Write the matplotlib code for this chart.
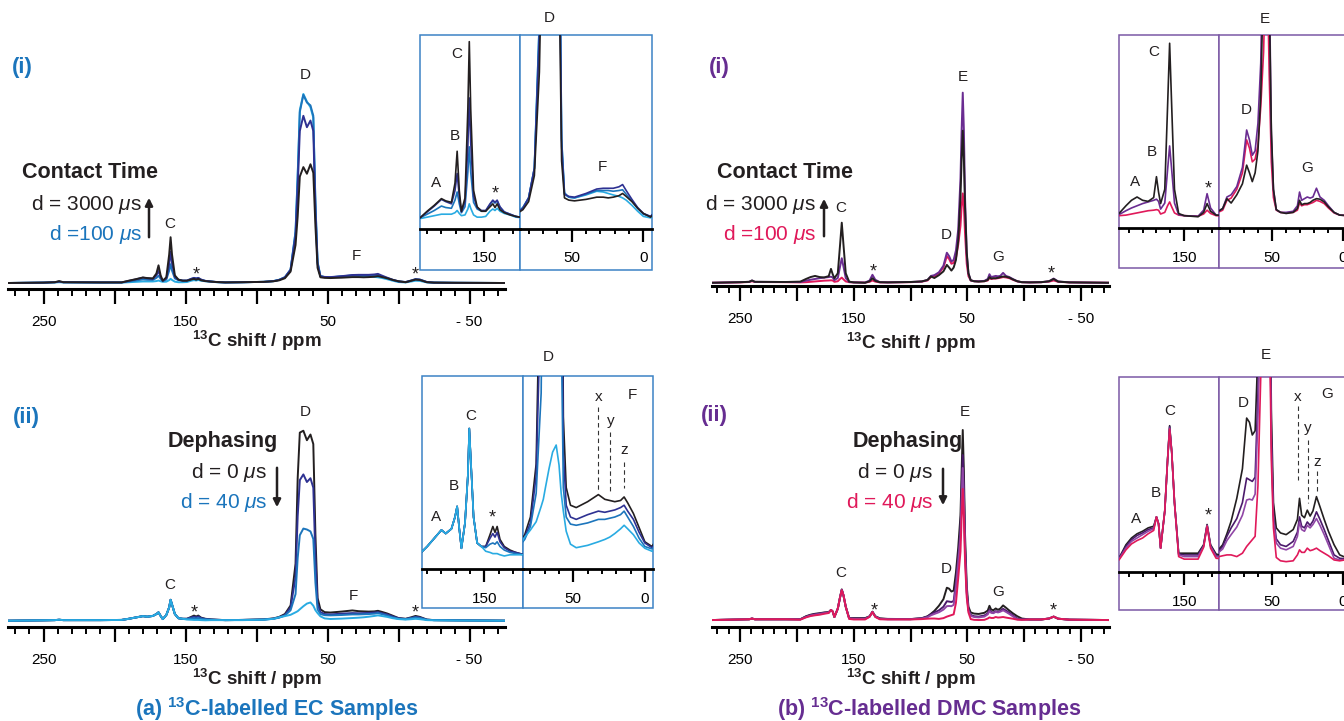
import matplotlib
matplotlib.use('Agg')
import matplotlib.pyplot as plt
from matplotlib.patches import Rectangle, FancyArrowPatch

plt.rcParams['font.family'] = ['Liberation Sans', 'DejaVu Sans']
plt.rcParams['mathtext.fontset'] = 'custom'
plt.rcParams['mathtext.rm'] = 'Liberation Sans'
plt.rcParams['mathtext.it'] = 'Liberation Sans:italic'
plt.rcParams['mathtext.bf'] = 'Liberation Sans:bold'

W, H = 1344, 721

# ---- EC spectra (shift grid shared by both EC panels) ----
ec_ppm = [275, 250, 242, 239, 236, 210, 195, 190, 185, 180,
          177, 173, 170.5, 169, 167.5, 166, 163.5, 161.5, 160.5, 159.5,
          157.5, 155, 152, 149, 146, 144, 142.5, 141, 139, 136,
          132, 128, 122, 110, 95, 88, 84, 80, 76, 72.5,
          71, 69.5, 67, 64.5, 62, 60, 58.5, 57, 55, 52,
          48, 40, 32.5, 28, 24.5, 21, 17, 14.5, 12, 8,
          4, 0, -5, -9, -12, -15, -20, -25, -40, -75]

# (a)(i) contact time
ec_ct_3000 = [0, 0.002, 0.004, 0.010, 0.004, 0.003, 0.003, 0.012, 0.020, 0.029,
              0.026, 0.024, 0.050, 0.093, 0.040, 0.012, 0.030, 0.150, 0.241, 0.150,
              0.040, 0.018, 0.012, 0.012, 0.018, 0.022, 0.017, 0.022, 0.014, 0.010,
              0.007, 0.005, 0.003, 0.004, 0.006, 0.009, 0.014, 0.025, 0.060, 0.200,
              0.350, 0.560, 0.610, 0.575, 0.625, 0.580, 0.300, 0.080, 0.030, 0.027,
              0.026, 0.028, 0.031, 0.031, 0.030, 0.031, 0.033, 0.036, 0.032, 0.025,
              0.016, 0.009, 0.004, 0.012, 0.018, 0.016, 0.004, 0.002, 0.001, 0]
ec_ct_mid1 = [0, 0.002, 0.004, 0.008, 0.004, 0.003, 0.003, 0.011, 0.019, 0.028,
              0.025, 0.022, 0.040, 0.063, 0.032, 0.011, 0.025, 0.100, 0.165, 0.105,
              0.032, 0.017, 0.013, 0.013, 0.022, 0.027, 0.024, 0.027, 0.018, 0.011,
              0.008, 0.005, 0.003, 0.004, 0.006, 0.010, 0.016, 0.030, 0.070, 0.250,
              0.500, 0.800, 0.880, 0.820, 0.855, 0.800, 0.380, 0.100, 0.035, 0.032,
              0.031, 0.036, 0.042, 0.043, 0.043, 0.043, 0.045, 0.048, 0.040, 0.028,
              0.017, 0.009, 0.005, 0.013, 0.020, 0.018, 0.005, 0.002, 0.001, 0]
ec_ct_mid2 = [0, 0.002, 0.004, 0.006, 0.004, 0.003, 0.003, 0.008, 0.013, 0.019,
              0.017, 0.016, 0.027, 0.038, 0.022, 0.010, 0.018, 0.065, 0.099, 0.065,
              0.024, 0.015, 0.012, 0.012, 0.021, 0.026, 0.023, 0.026, 0.017, 0.011,
              0.008, 0.005, 0.003, 0.004, 0.006, 0.010, 0.017, 0.030, 0.070, 0.270,
              0.560, 0.900, 0.990, 0.950, 0.935, 0.880, 0.420, 0.110, 0.037, 0.031,
              0.030, 0.035, 0.040, 0.040, 0.040, 0.039, 0.040, 0.041, 0.035, 0.026,
              0.016, 0.008, 0.005, 0.013, 0.020, 0.018, 0.005, 0.002, 0.001, 0]
ec_ct_100 = [0, 0.002, 0.003, 0.004, 0.003, 0.002, 0.002, 0.004, 0.006, 0.008,
             0.008, 0.008, 0.010, 0.013, 0.009, 0.006, 0.007, 0.015, 0.022, 0.016,
             0.007, 0.004, 0.004, 0.005, 0.012, 0.015, 0.013, 0.016, 0.012, 0.009,
             0.007, 0.004, 0.003, 0.004, 0.006, 0.010, 0.017, 0.030, 0.070, 0.270,
             0.570, 0.910, 0.995, 0.955, 0.925, 0.870, 0.420, 0.110, 0.035, 0.031,
             0.030, 0.034, 0.039, 0.038, 0.036, 0.034, 0.032, 0.030, 0.027, 0.020,
             0.012, 0.005, 0.003, 0.008, 0.012, 0.011, 0.003, 0.002, 0.001, 0]

# (a)(ii) dephasing
ec_dp_0 = [0, 0.002, 0.003, 0.005, 0.003, 0.003, 0.004, 0.010, 0.017, 0.024,
           0.021, 0.025, 0.035, 0.044, 0.025, 0.0085, 0.030, 0.070, 0.110, 0.085,
           0.035, 0.013, 0.010, 0.010, 0.020, 0.027, 0.022, 0.027, 0.016, 0.010,
           0.007, 0.005, 0.003, 0.004, 0.007, 0.012, 0.020, 0.035, 0.080, 0.300,
           0.750, 0.990, 1.000, 0.950, 0.980, 0.930, 0.450, 0.120, 0.060, 0.045,
           0.043, 0.048, 0.054, 0.050, 0.049, 0.048, 0.049, 0.052, 0.047, 0.038,
           0.026, 0.014, 0.010, 0.018, 0.025, 0.020, 0.006, 0.003, 0.002, 0]
ec_dp_mid1 = [0, 0.002, 0.003, 0.005, 0.003, 0.003, 0.004, 0.010, 0.017, 0.024,
              0.021, 0.025, 0.035, 0.044, 0.025, 0.0085, 0.030, 0.070, 0.110, 0.085,
              0.035, 0.013, 0.010, 0.010, 0.017, 0.021, 0.018, 0.022, 0.014, 0.009,
              0.006, 0.005, 0.003, 0.004, 0.006, 0.011, 0.018, 0.030, 0.070, 0.230,
              0.550, 0.740, 0.770, 0.730, 0.750, 0.700, 0.330, 0.090, 0.045, 0.035,
              0.033, 0.037, 0.040, 0.039, 0.040, 0.041, 0.043, 0.045, 0.040, 0.033,
              0.022, 0.013, 0.009, 0.015, 0.020, 0.017, 0.005, 0.003, 0.002, 0]
ec_dp_mid2 = [0, 0.002, 0.003, 0.005, 0.003, 0.003, 0.004, 0.010, 0.017, 0.024,
              0.021, 0.025, 0.035, 0.044, 0.025, 0.0085, 0.030, 0.070, 0.110, 0.085,
              0.035, 0.013, 0.010, 0.009, 0.012, 0.013, 0.012, 0.014, 0.010, 0.007,
              0.005, 0.004, 0.003, 0.004, 0.006, 0.010, 0.016, 0.027, 0.055, 0.140,
              0.330, 0.450, 0.485, 0.480, 0.470, 0.430, 0.200, 0.060, 0.035, 0.029,
              0.028, 0.030, 0.033, 0.033, 0.034, 0.035, 0.037, 0.040, 0.035, 0.027,
              0.017, 0.010, 0.008, 0.013, 0.017, 0.014, 0.005, 0.003, 0.002, 0]
ec_dp_40 = [0, 0.002, 0.003, 0.005, 0.003, 0.003, 0.004, 0.010, 0.017, 0.024,
            0.021, 0.025, 0.035, 0.044, 0.025, 0.0085, 0.030, 0.070, 0.110, 0.085,
            0.035, 0.013, 0.010, 0.006, 0.005, 0.004, 0.004, 0.004, 0.003, 0.002,
            0.003, 0.003, 0.003, 0.003, 0.005, 0.010, 0.018, 0.024, 0.031, 0.044,
            0.050, 0.060, 0.076, 0.090, 0.096, 0.079, 0.055, 0.040, 0.023, 0.012,
            0.009, 0.011, 0.014, 0.016, 0.018, 0.021, 0.025, 0.028, 0.025, 0.020,
            0.013, 0.0085, 0.006, 0.008, 0.010, 0.008, 0.003, 0.002, 0.001, 0]

# ---- DMC spectra (shift grid shared by both DMC panels) ----
dmc_ppm = [275, 250, 242, 239.5, 237, 210, 197, 192, 188, 184,
           180, 176, 172, 170, 168.5, 167, 164, 162, 160.5, 159,
           157, 154, 150, 140, 136, 133.5, 131, 127, 120, 100,
           90, 85, 82, 79, 75, 71, 68, 66, 64, 62,
           60, 58, 56, 55, 54, 53, 52, 50.5, 49, 47,
           44, 40, 35, 32, 30.5, 29, 27, 25, 23, 21,
           18.5, 16, 13, 10, 6, 2, -5, -15, -22, -26,
           -30, -40, -75]

# (b)(i) contact time
dmc_ct_3000 = [0, 0.003, 0.005, 0.012, 0.005, 0.004, 0.006, 0.020, 0.030, 0.036,
               0.030, 0.028, 0.035, 0.073, 0.045, 0.024, 0.050, 0.200, 0.316, 0.200,
               0.050, 0.006, 0.002, 0.000, 0.008, 0.024, 0.010, 0.003, 0.002, 0.004,
               0.007, 0.015, 0.033, 0.025, 0.040, 0.060, 0.094, 0.080, 0.064, 0.080,
               0.120, 0.220, 0.450, 0.650, 0.800, 0.650, 0.400, 0.160, 0.050, 0.013,
               0.008, 0.006, 0.008, 0.015, 0.030, 0.022, 0.024, 0.024, 0.026, 0.030,
               0.033, 0.032, 0.027, 0.018, 0.008, 0.003, 0.002, 0.003, 0.008, 0.020,
               0.006, 0.002, 0]
dmc_ct_mid = [0, 0.003, 0.005, 0.012, 0.005, 0.004, 0.004, 0.011, 0.016, 0.020,
              0.024, 0.027, 0.030, 0.032, 0.028, 0.014, 0.025, 0.085, 0.129, 0.085,
              0.025, 0.004, 0.002, 0.001, 0.012, 0.042, 0.016, 0.003, 0.002, 0.004,
              0.007, 0.015, 0.036, 0.040, 0.055, 0.090, 0.158, 0.140, 0.112, 0.120,
              0.170, 0.280, 0.550, 0.800, 1.000, 0.800, 0.450, 0.150, 0.050, 0.013,
              0.008, 0.008, 0.010, 0.020, 0.045, 0.030, 0.033, 0.036, 0.034, 0.036,
              0.052, 0.036, 0.030, 0.020, 0.008, 0.003, 0.002, 0.003, 0.008, 0.022,
              0.007, 0.002, 0]
dmc_ct_100 = [0, 0.002, 0.004, 0.008, 0.004, 0.003, 0.002, 0.003, 0.005, 0.007,
              0.009, 0.011, 0.012, 0.013, 0.012, 0.005, 0.008, 0.020, 0.027, 0.018,
              0.007, 0.003, 0.002, 0.001, 0.005, 0.012, 0.006, 0.002, 0.002, 0.003,
              0.006, 0.012, 0.030, 0.034, 0.050, 0.080, 0.140, 0.125, 0.100, 0.105,
              0.130, 0.200, 0.300, 0.400, 0.470, 0.400, 0.260, 0.100, 0.035, 0.012,
              0.008, 0.007, 0.008, 0.012, 0.025, 0.020, 0.022, 0.022, 0.024, 0.026,
              0.030, 0.028, 0.024, 0.016, 0.007, 0.003, 0.002, 0.003, 0.006, 0.012,
              0.005, 0.002, 0]

# (b)(ii) dephasing
dmc_dp_0 = [0, 0.003, 0.004, 0.008, 0.004, 0.004, 0.004, 0.020, 0.028, 0.033,
            0.036, 0.040, 0.042, 0.053, 0.045, 0.016, 0.060, 0.120, 0.161, 0.130,
            0.070, 0.010, 0.010, 0.010, 0.020, 0.044, 0.020, 0.009, 0.006, 0.005,
            0.010, 0.020, 0.033, 0.048, 0.075, 0.110, 0.170, 0.165, 0.150, 0.155,
            0.250, 0.380, 0.550, 0.780, 1.000, 0.780, 0.450, 0.180, 0.070, 0.040,
            0.034, 0.032, 0.038, 0.050, 0.075, 0.055, 0.052, 0.061, 0.054, 0.060,
            0.077, 0.065, 0.050, 0.036, 0.020, 0.008, 0.003, 0.003, 0.008, 0.018,
            0.007, 0.002, 0]
dmc_dp_mid1 = [0, 0.003, 0.004, 0.008, 0.004, 0.004, 0.004, 0.018, 0.026, 0.031,
               0.034, 0.038, 0.040, 0.053, 0.045, 0.016, 0.060, 0.120, 0.160, 0.130,
               0.070, 0.009, 0.008, 0.008, 0.019, 0.043, 0.019, 0.007, 0.005, 0.005,
               0.009, 0.018, 0.030, 0.040, 0.051, 0.070, 0.099, 0.097, 0.095, 0.100,
               0.200, 0.330, 0.480, 0.680, 0.868, 0.680, 0.390, 0.150, 0.055, 0.027,
               0.020, 0.018, 0.024, 0.035, 0.053, 0.042, 0.040, 0.047, 0.043, 0.048,
               0.059, 0.050, 0.038, 0.025, 0.008, 0.004, 0.003, 0.003, 0.008, 0.018,
               0.007, 0.002, 0]
dmc_dp_mid2 = [0, 0.003, 0.004, 0.008, 0.004, 0.004, 0.003, 0.016, 0.024, 0.028,
               0.032, 0.036, 0.039, 0.053, 0.045, 0.016, 0.060, 0.120, 0.158, 0.130,
               0.070, 0.008, 0.006, 0.006, 0.018, 0.043, 0.018, 0.006, 0.004, 0.004,
               0.008, 0.015, 0.025, 0.032, 0.041, 0.055, 0.073, 0.074, 0.073, 0.080,
               0.170, 0.300, 0.440, 0.630, 0.800, 0.630, 0.360, 0.140, 0.050, 0.022,
               0.016, 0.014, 0.018, 0.030, 0.047, 0.038, 0.036, 0.043, 0.040, 0.044,
               0.051, 0.043, 0.032, 0.020, 0.004, 0.002, 0.003, 0.003, 0.008, 0.018,
               0.007, 0.002, 0]
dmc_dp_40 = [0, 0.003, 0.004, 0.008, 0.004, 0.004, 0.002, 0.014, 0.021, 0.025,
             0.028, 0.033, 0.037, 0.053, 0.045, 0.016, 0.060, 0.120, 0.157, 0.130,
             0.070, 0.006, 0.003, 0.003, 0.017, 0.042, 0.016, 0.004, 0.003, 0.003,
             0.005, 0.007, 0.008, 0.008, 0.006, 0.010, 0.018, 0.022, 0.026, 0.030,
             0.090, 0.220, 0.360, 0.540, 0.690, 0.540, 0.310, 0.120, 0.040, 0.005,
             0.001, 0.000, 0.001, 0.008, 0.014, 0.011, 0.011, 0.016, 0.013, 0.014,
             0.016, 0.013, 0.010, 0.007, 0.002, 0.001, 0.003, 0.003, 0.008, 0.018,
             0.007, 0.002, 0]

main_major = [250, 200, 150, 100, 50, 0, -50]
main_labels = ['250', '', '150', '', '50', '', '- 50']

BLACK = '#231f20'
EC_COL = '#1b75bc'
DMC_COL = '#662d91'
EC_LINES = ['#231f20', '#2e3192', '#1c75bc', '#29abe2']
DMC_CT_LINES = ['#231f20', '#6a2c91', '#e0195a']
DMC_DP_LINES = ['#231f20', '#4b1a6b', '#9046a6', '#e0195a']

fig = plt.figure(figsize=(W / 100, H / 100), dpi=100)


def px_axes(left, top, right, bottom, z=1):
    ax = fig.add_axes([left / W, 1 - bottom / H, (right - left) / W, (bottom - top) / H], zorder=z)
    ax.patch.set_visible(False)
    for side in ['top', 'left', 'right']:
        ax.spines[side].set_visible(False)
    ax.set_yticks([])
    return ax


def main_axes(left, top, right, bottom, ylim):
    ax = px_axes(left, top, right, bottom)
    ax.set_xlim(275, -75)
    ax.set_ylim(*ylim)
    ax.spines['bottom'].set_linewidth(2.2)
    ax.set_xticks(main_major)
    ax.set_xticklabels(main_labels)
    ax.set_xticks(list(range(270, -80, -10)), minor=True)
    ax.tick_params(axis='x', which='major', length=11, width=1.6, labelsize=11, pad=8)
    ax.tick_params(axis='x', which='minor', length=5, width=1.4)
    return ax


def inset_pair(left, mid, right, top, axis_y, box_bottom, xl_left, xl_right, ylim, edge):
    for a, b in [(left, mid), (mid, right)]:
        fig.add_artist(Rectangle((a / W, 1 - box_bottom / H), (b - a) / W, (box_bottom - top) / H,
                                 transform=fig.transFigure, facecolor='white',
                                 edgecolor=edge, lw=1.1, zorder=2))
    axl = px_axes(left, top, mid, axis_y, z=3)
    axr = px_axes(mid, top, right, axis_y, z=3)
    axl.set_xlim(*xl_left)
    axr.set_xlim(*xl_right)
    axl.set_xticks([150])
    axl.set_xticklabels(['150'])
    axl.set_xticks([190, 180, 170, 160, 140, 130], minor=True)
    axr.set_xticks([50, 0])
    axr.set_xticklabels(['50', '0'])
    axr.set_xticks([80, 70, 60, 40, 30, 20, 10], minor=True)
    for ax in (axl, axr):
        ax.set_ylim(*ylim)
        ax.spines['bottom'].set_linewidth(2.0)
        ax.tick_params(axis='x', which='major', length=9, width=1.6, labelsize=11, pad=7)
        ax.tick_params(axis='x', which='minor', length=3.5, width=1.4)
    return axl, axr


def draw(axes, ppm, series, colors, lw):
    for ax in axes:
        for vals, c in zip(series, colors):
            ax.plot(ppm, vals, color=c, lw=lw, solid_joinstyle='round')


def labels(ax, items, size=11):
    for s, x, y in items:
        ax.text(x, y, s, ha='center', va='center', fontsize=size + (2 if s == '*' else 0),
                color=BLACK, clip_on=False)


def dashes(ax, items):
    for x, y0, y1 in items:
        ax.plot([x, x], [y0, y1], color='#333333', lw=0.8, ls=(0, (4, 3)))


def ftext(x, y, s, **kw):
    fig.text(x / W, 1 - y / H, s, **kw)


def arrow(x, y_tail, y_head):
    fig.add_artist(FancyArrowPatch((x / W, 1 - y_tail / H), (x / W, 1 - y_head / H),
                                   transform=fig.transFigure, arrowstyle='-|>',
                                   mutation_scale=11, lw=1.8, color=BLACK, zorder=4))


# ---------------- (a)(i) EC contact time ----------------
ax = main_axes(8, 40, 505, 289, (-0.0316, 1.279))
axl, axr = inset_pair(420, 520, 652, 35, 229, 270, (195, 125), (86, -6), (-0.012, 0.25), '#3c83c5')
draw([ax], ec_ppm, [ec_ct_100, ec_ct_mid2, ec_ct_mid1, ec_ct_3000], EC_LINES[::-1], 1.4)
draw([axl, axr], ec_ppm, [ec_ct_100, ec_ct_mid2, ec_ct_mid1, ec_ct_3000], EC_LINES[::-1], 1.2)
labels(ax, [('D', 66, 1.095), ('C', 160.9, 0.31), ('*', 142.6, 0.04), ('F', 30, 0.14), ('*', -11.6, 0.04)])
labels(axl, [('C', 169.1, 0.225), ('B', 170.3, 0.1135), ('A', 183.8, 0.0495), ('*', 142.3, 0.035)])
labels(axr, [('D', 65.4, 0.2725), ('F', 28.5, 0.072)])

# ---------------- (a)(ii) EC dephasing ----------------
ax = main_axes(8, 380, 505, 626.7, (-0.0316, 1.267))
axl, axr = inset_pair(422, 523, 653, 376, 569.3, 608, (193.6, 122.9), (85.2, -5.7), (-0.0093, 0.1545), '#3c83c5')
draw([ax], ec_ppm, [ec_dp_0, ec_dp_mid1, ec_dp_mid2, ec_dp_40], EC_LINES, 1.4)
draw([axl, axr], ec_ppm, [ec_dp_0, ec_dp_mid1, ec_dp_mid2, ec_dp_40], EC_LINES, 1.2)
labels(ax, [('D', 66, 1.10), ('C', 160.9, 0.188), ('*', 143.8, 0.04), ('F', 31.8, 0.13), ('*', -11.6, 0.04)])
labels(axl, [('C', 159.5, 0.121), ('B', 171, 0.061), ('A', 184, 0.035), ('*', 144.4, 0.034)])
labels(axr, [('D', 67.7, 0.171), ('x', 32.5, 0.137), ('y', 23.6, 0.116), ('z', 14.3, 0.092), ('F', 8.7, 0.138)])
dashes(axr, [(32.5, 0.128, 0.056), (24.4, 0.107, 0.056), (14.7, 0.082, 0.06)])

# ---------------- (b)(i) DMC contact time ----------------
ax = main_axes(711.7, 40, 1109.3, 286, (-0.017, 1.277))
axl, axr = inset_pair(1119, 1219.3, 1351, 35, 228.3, 268, (197, 124.7), (87.4, -6), (-0.021, 0.331), '#7b59a5')
draw([ax], dmc_ppm, [dmc_ct_100, dmc_ct_mid, dmc_ct_3000], DMC_CT_LINES[::-1], 1.4)
draw([axl, axr], dmc_ppm, [dmc_ct_100, dmc_ct_mid, dmc_ct_3000], DMC_CT_LINES[::-1], 1.2)
labels(ax, [('C', 161.2, 0.393), ('*', 132.7, 0.055), ('D', 68.8, 0.25), ('E', 53.8, 1.083),
            ('G', 23.2, 0.135), ('*', -24.3, 0.047)])
labels(axl, [('C', 172.3, 0.30), ('B', 173.5, 0.118), ('A', 185.5, 0.064), ('*', 132.7, 0.051)])
labels(axr, [('D', 68.4, 0.194), ('E', 54.8, 0.361), ('G', 24.8, 0.088)])

# ---------------- (b)(ii) DMC dephasing ----------------
ax = main_axes(711.7, 380, 1109.3, 626.7, (-0.035, 1.263))
axl, axr = inset_pair(1119, 1219.3, 1351, 376.7, 572.3, 610, (197, 124.7), (87.4, -6), (-0.0126, 0.219), '#7b59a5')
draw([ax], dmc_ppm, [dmc_dp_0, dmc_dp_mid1, dmc_dp_mid2, dmc_dp_40], DMC_DP_LINES, 1.4)
draw([axl, axr], dmc_ppm, [dmc_dp_0, dmc_dp_mid1, dmc_dp_mid2, dmc_dp_40], DMC_DP_LINES, 1.2)
labels(ax, [('C', 161.2, 0.25), ('*', 132.1, 0.047), ('D', 68.2, 0.267), ('E', 52.6, 1.096),
            ('G', 23.2, 0.149), ('*', -25.7, 0.05)])
labels(axl, [('C', 160.3, 0.1785), ('B', 170.6, 0.081), ('A', 185, 0.0506), ('*', 132.7, 0.054)])
labels(axr, [('D', 70.1, 0.1877), ('E', 54.7, 0.245), ('x', 31.6, 0.1955), ('y', 24.5, 0.158),
             ('z', 18.1, 0.1185), ('G', 11.0, 0.198)])
dashes(axr, [(31.4, 0.184, 0.097), (24.8, 0.144, 0.069), (18.1, 0.107, 0.081)])

# ---------------- texts ----------------
xlab = r'$^{\mathbf{13}}$C shift / ppm'
for x, y in [(257, 341), (257, 679), (911, 343), (911, 679)]:
    ftext(x, y, xlab, ha='center', va='center', fontsize=13.5, fontweight='bold', color=BLACK)

ftext(22, 67, '(i)', ha='center', va='center', fontsize=16, fontweight='bold', color=EC_COL)
ftext(26, 417, '(ii)', ha='center', va='center', fontsize=16, fontweight='bold', color=EC_COL)
ftext(719, 67, '(i)', ha='center', va='center', fontsize=16, fontweight='bold', color=DMC_COL)
ftext(714, 416, '(ii)', ha='center', va='center', fontsize=16, fontweight='bold', color=DMC_COL)

ftext(22, 173, 'Contact Time', ha='left', va='center', fontsize=15.5, fontweight='bold', color=BLACK)
ftext(142, 204, r'd = 3000 $\mu$s', ha='right', va='center', fontsize=15, color=BLACK)
ftext(142, 234, r'd =100 $\mu$s', ha='right', va='center', fontsize=15, color=EC_COL)
arrow(149, 240, 195)

ftext(168, 442, 'Dephasing', ha='left', va='center', fontsize=15.5, fontweight='bold', color=BLACK)
ftext(267, 473, r'd = 0 $\mu$s', ha='right', va='center', fontsize=15, color=BLACK)
ftext(267, 503, r'd = 40 $\mu$s', ha='right', va='center', fontsize=15, color=EC_COL)
arrow(277, 465, 510)

ftext(717, 173, 'Contact Time', ha='left', va='center', fontsize=15.5, fontweight='bold', color=BLACK)
ftext(816, 204, r'd = 3000 $\mu$s', ha='right', va='center', fontsize=15, color=BLACK)
ftext(816, 234, r'd =100 $\mu$s', ha='right', va='center', fontsize=15, color='#e0195a')
arrow(824, 239, 196)

ftext(853, 442, 'Dephasing', ha='left', va='center', fontsize=15.5, fontweight='bold', color=BLACK)
ftext(933, 473, r'd = 0 $\mu$s', ha='right', va='center', fontsize=15, color=BLACK)
ftext(933, 503, r'd = 40 $\mu$s', ha='right', va='center', fontsize=15, color='#e0195a')
arrow(943, 466, 508)

ftext(277, 709, r'(a) $^{\mathbf{13}}$C-labelled EC Samples', ha='center', va='center',
      fontsize=15.5, fontweight='bold', color=EC_COL)
ftext(929, 709, r'(b) $^{\mathbf{13}}$C-labelled DMC Samples', ha='center', va='center',
      fontsize=15.5, fontweight='bold', color=DMC_COL)

fig.savefig('out.png', dpi=100)
